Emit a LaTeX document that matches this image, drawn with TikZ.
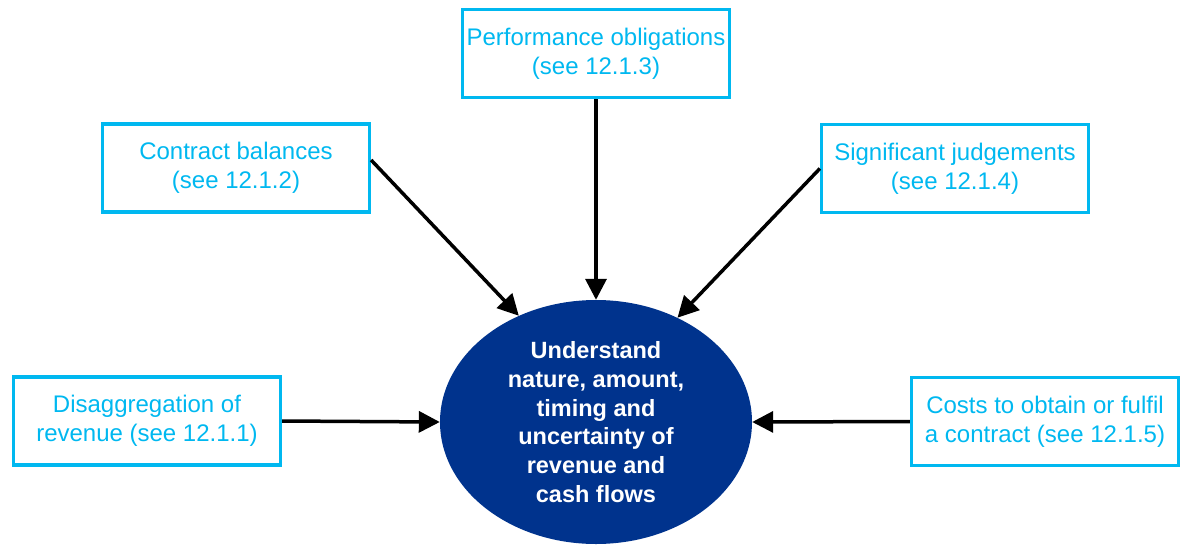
\documentclass[tikz,border=0pt]{standalone}
\usepackage{fontspec}
\setmainfont{Liberation Sans}
\usetikzlibrary{arrows.meta,shapes.geometric}
\definecolor{kcyan}{HTML}{00B8F0}
\definecolor{kblue}{HTML}{00338D}
\begin{document}
\begin{tikzpicture}[x=1pt,y=-1pt,
  topic/.style={draw=kcyan,line width=3.2pt,text=kcyan,minimum width=267pt,minimum height=88pt,
    align=center,inner sep=0pt,font=\fontsize{24}{29}\selectfont},
  core/.style={ellipse,fill=kblue,text=white,minimum width=312pt,minimum height=244pt,inner sep=0pt,
    align=center,font=\fontsize{23.5}{28.7}\selectfont\bfseries},
  link/.style={line width=3.5pt,-{Triangle[length=21pt,width=21pt]}}]
\useasboundingbox (0,0) rectangle (1189,544);
\node[core] (ell) at (596,422) {Understand\\nature, amount,\\timing and\\uncertainty of\\revenue and\\cash flows};
\node[topic] (po) at (596,53.5) {Performance obligations\\(see 12.1.3)};
\node[topic] (cb) at (236,168) {Contract balances\\(see 12.1.2)};
\node[topic] (sj) at (955,168.5) {Significant judgements\\(see 12.1.4)};
\node[topic] (dr) at (147,421) {Disaggregation of\\revenue (see 12.1.1)};
\node[topic] (cc) at (1045,421.5) {Costs to obtain or fulfil\\a contract (see 12.1.5)};
\draw[link] (po.south) -- (ell.north);
\draw[link] ([yshift=8pt]cb.east) -- (ell.126);
\draw[link] (sj.west) -- (ell.52);
\draw[link] (dr.east) -- (ell.west);
\draw[link] (cc.west) -- (ell.east);
\end{tikzpicture}
\end{document}
